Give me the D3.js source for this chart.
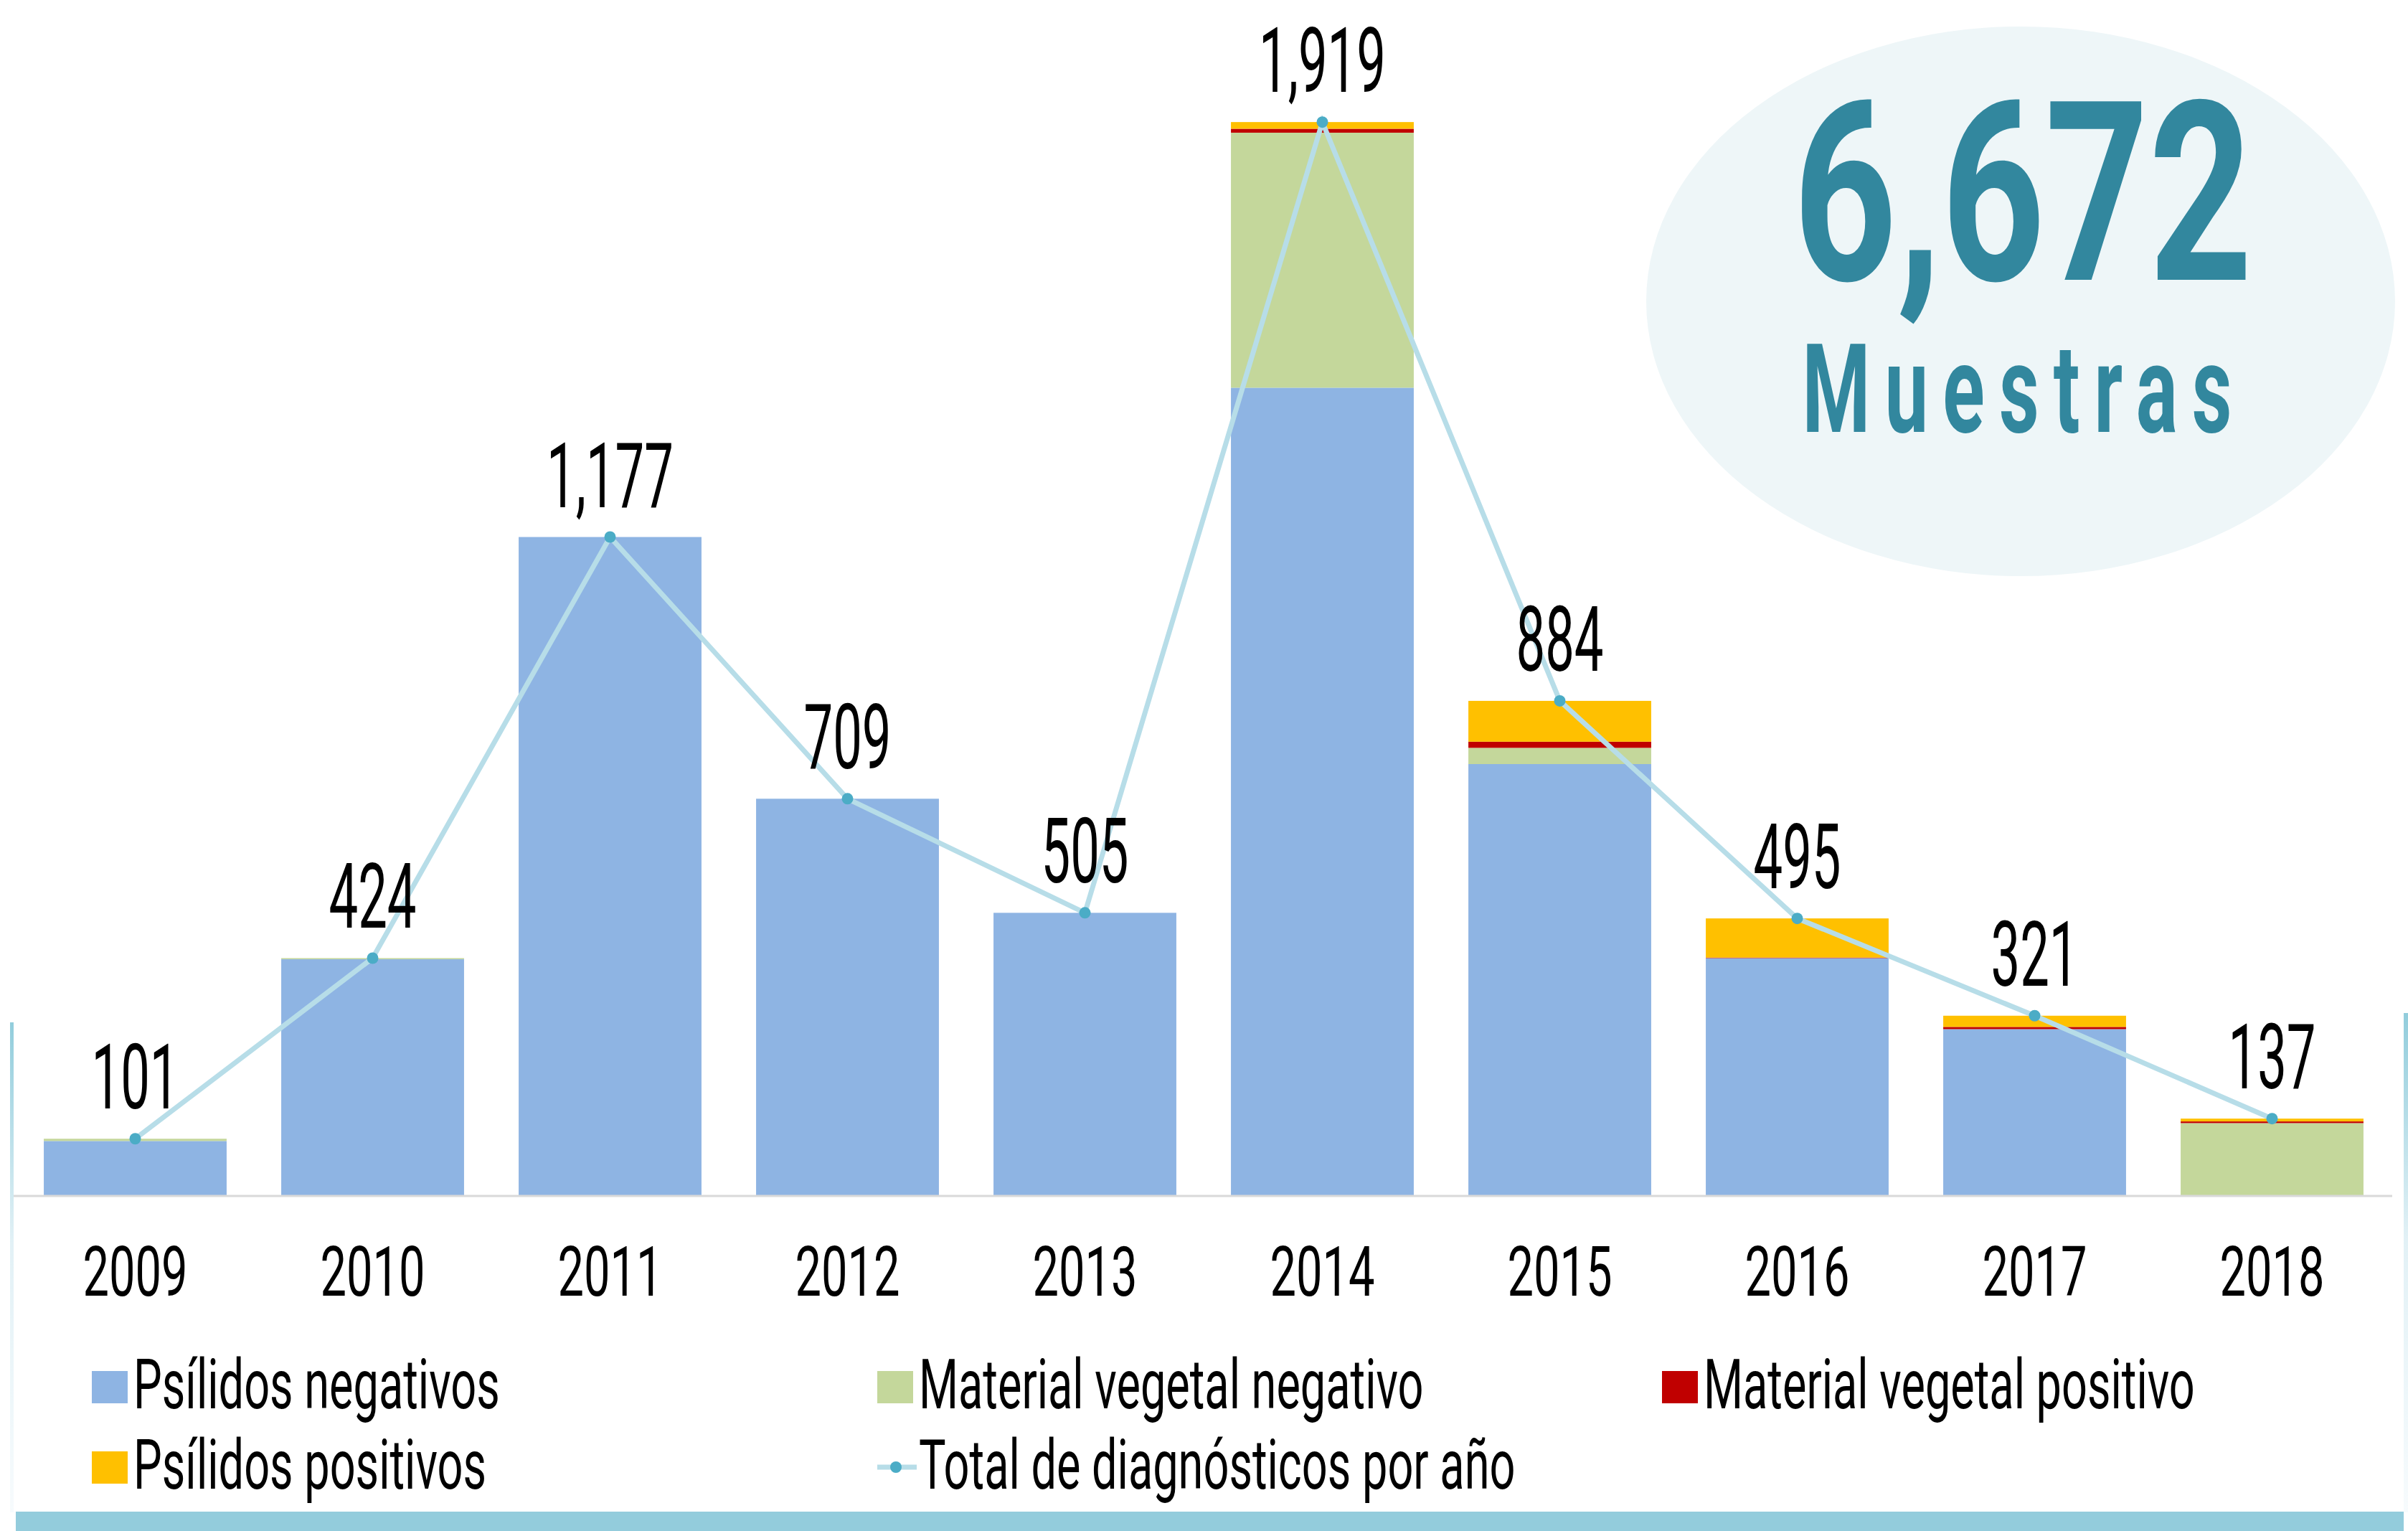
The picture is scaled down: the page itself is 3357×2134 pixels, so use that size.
<!DOCTYPE html>
<html>
<head>
<meta charset="utf-8">
<script src="https://cdn.jsdelivr.net/npm/d3@7"></script>
<style>
  body { margin: 0; background: #fff; }
  svg { display: block; }
  text { font-family: Roboto, 'Open Sans', sans-serif; }
</style>
</head>
<body>
<svg width="3357" height="2134"></svg>
<script>
(function (d3) {
    'use strict';

    // data
    const years = ['2009', '2010', '2011', '2012', '2013', '2014', '2015', '2016', '2017', '2018'];
    const psilidosNeg = [97, 422, 1177, 709, 505, 1444, 771, 424, 297, 0];
    const materialNeg = [4, 2, 0, 0, 0, 456, 29, 0, 0, 129];
    const materialPos = [0, 0, 0, 0, 0, 7, 11, 1, 4, 3];
    const psilidosPos = [0, 0, 0, 0, 0, 12, 73, 70, 20, 5];
    const totals = [101, 424, 1177, 709, 505, 1919, 884, 495, 321, 137];
    const seriesNames = ['Psílidos negativos', 'Material vegetal negativo', 'Material vegetal positivo', 'Psílidos positivos'];
    const lineName = 'Total de diagnósticos por año';
    const bigNumber = '6,672';
    const bigLabel = 'Muestras';

    const svg = d3.select('svg');
    const fmt = d3.format(',');

    const colors = d3.scaleOrdinal()
        .domain(seriesNames)
        .range(['#8eb4e3', '#c4d79b', '#c00000', '#ffc000']);

    const table = years.map((y, i) => ({
        year: y,
        [seriesNames[0]]: psilidosNeg[i],
        [seriesNames[1]]: materialNeg[i],
        [seriesNames[2]]: materialPos[i],
        [seriesNames[3]]: psilidosPos[i],
        total: totals[i]
    }));

    const x = d3.scaleBand()
        .domain(years)
        .range([23, 3333])
        .paddingInner(0.23)
        .paddingOuter(0.115);

    const y = d3.scaleLinear()
        .domain([0, 2000])
        .range([1666, 107]);

    // condensed text helper (no Agency FB here, so squeeze a normal face)
    const label = (sel, props) => {
        const { px, py, txt, size, sx, anchor, weight, fill, spacing } = props;
        return sel.append('text')
            .attr('transform', `translate(${px},${py}) scale(${sx},1)`)
            .attr('text-anchor', anchor || 'middle')
            .attr('font-size', size)
            .attr('font-weight', weight || 400)
            .attr('letter-spacing', spacing || 0)
            .attr('fill', fill || '#000')
            .text(txt);
    };

    // frame: gradient side rules and bottom band
    const defs = svg.append('defs');
    const grad = defs.append('linearGradient')
        .attr('id', 'fade')
        .attr('x1', 0).attr('y1', 0).attr('x2', 0).attr('y2', 1);
    grad.append('stop').attr('offset', '0%').attr('stop-color', '#92cddc');
    grad.append('stop').attr('offset', '45%').attr('stop-color', '#e2f1f6');
    grad.append('stop').attr('offset', '100%').attr('stop-color', '#f7fbfd');

    svg.append('rect')
        .attr('x', 14).attr('y', 1425).attr('width', 5).attr('height', 683)
        .attr('fill', 'url(#fade)');
    svg.append('rect')
        .attr('x', 3351).attr('y', 1412).attr('width', 6).attr('height', 696)
        .attr('fill', 'url(#fade)');
    svg.append('rect')
        .attr('x', 22).attr('y', 2107).attr('width', 3329).attr('height', 27)
        .attr('fill', '#93ccdc');

    // ellipse badge
    svg.append('ellipse')
        .attr('cx', 2817).attr('cy', 420)
        .attr('rx', 522).attr('ry', 383)
        .attr('fill', '#eef6f8');

    label(svg, { px: 2820, py: 390, txt: bigNumber, size: 350, sx: 0.72, weight: 700, fill: '#32879e' });
    label(svg, { px: 2822, py: 602, txt: bigLabel, size: 172, sx: 0.63, weight: 700, fill: '#32879e', spacing: 32 });

    // stacked bars
    const stack = d3.stack().keys(seriesNames);
    const layers = stack(table);

    svg.append('g')
        .selectAll('g')
        .data(layers)
        .enter().append('g')
            .attr('fill', d => colors(d.key))
        .selectAll('rect')
        .data(d => d)
        .enter().append('rect')
            .attr('x', d => x(d.data.year))
            .attr('width', x.bandwidth())
            .attr('y', d => y(d[1]))
            .attr('height', d => y(d[0]) - y(d[1]));

    // baseline
    svg.append('line')
        .attr('x1', 19).attr('x2', 3335)
        .attr('y1', y(0) + 1).attr('y2', y(0) + 1)
        .attr('stroke', '#d9d9d9')
        .attr('stroke-width', 3);

    // year labels
    const yearG = svg.append('g');
    years.forEach(yr => {
        label(yearG, { px: x(yr) + x.bandwidth() / 2, py: 1806, txt: yr, size: 97, sx: 0.67 });
    });

    // total line + markers
    const cx = d => x(d.year) + x.bandwidth() / 2;
    const lineGen = d3.line()
        .x(cx)
        .y(d => y(d.total));

    svg.append('path')
        .datum(table)
        .attr('d', lineGen)
        .attr('fill', 'none')
        .attr('stroke', '#b7dde8')
        .attr('stroke-width', 7);

    svg.append('g')
        .selectAll('circle')
        .data(table)
        .enter().append('circle')
            .attr('cx', cx)
            .attr('cy', d => y(d.total))
            .attr('r', 8)
            .attr('fill', '#4bacc6');

    const valG = svg.append('g');
    table.forEach(d => {
        label(valG, { px: cx(d), py: y(d.total) - 42, txt: fmt(d.total), size: 127, sx: 0.57 });
    });

    // legend
    const legendItems = [
        { name: seriesNames[0], col: 0, row: 0 },
        { name: seriesNames[1], col: 1, row: 0 },
        { name: seriesNames[2], col: 2, row: 0 },
        { name: seriesNames[3], col: 0, row: 1 },
        { name: lineName, col: 1, row: 1, line: true }
    ];
    const colX = [128, 1223, 2317];
    const rowY = [1933, 2045];

    const legend = svg.append('g');
    legendItems.forEach(it => {
        const lx = colX[it.col];
        const ly = rowY[it.row];
        if (it.line) {
            legend.append('line')
                .attr('x1', lx).attr('x2', lx + 55)
                .attr('y1', ly).attr('y2', ly)
                .attr('stroke', '#b7dde8')
                .attr('stroke-width', 7);
            legend.append('circle')
                .attr('cx', lx + 26).attr('cy', ly)
                .attr('r', 8)
                .attr('fill', '#4bacc6');
        } else {
            legend.append('rect')
                .attr('x', lx).attr('y', ly - 22)
                .attr('width', 50).attr('height', 45)
                .attr('fill', colors(it.name));
        }
        label(legend, { px: lx + 58, py: ly + 30, txt: it.name, size: 97, sx: 0.65, anchor: 'start' });
    });
}(d3));
</script>
</body>
</html>
